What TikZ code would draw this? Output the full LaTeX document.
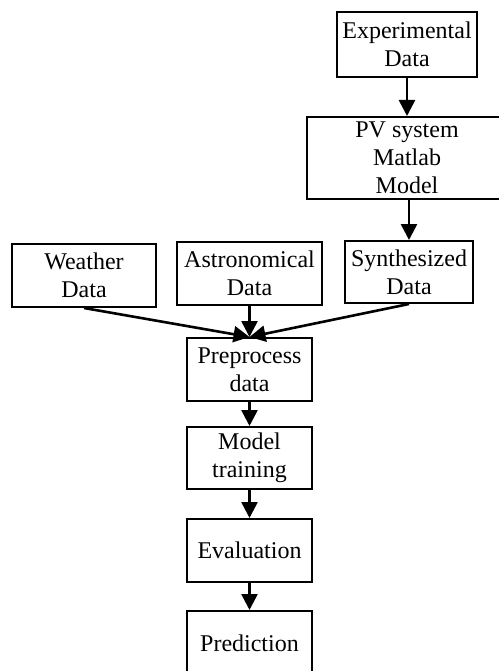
\documentclass[tikz,border=0pt]{standalone}
\usepackage{fontspec}
\setmainfont{Liberation Serif}
\usetikzlibrary{arrows.meta}
\begin{document}
\begin{tikzpicture}[x=1pt,y=-1pt,
  box/.style={draw,line width=2pt,align=center,inner sep=0pt,font=\fontsize{24}{28}\selectfont},
  arr/.style={line width=2.6pt,-{Triangle[length=16pt,width=16pt]}}]
\useasboundingbox (0,0) rectangle (498,671);
\node[box,minimum width=140pt,minimum height=65pt] (exp) at (407,44.5) {Experimental\\Data};
\node[box,minimum width=200pt,minimum height=82pt] (pv) at (407,158) {PV system\\Matlab\\Model};
\node[box,minimum width=128pt,minimum height=62pt] (syn) at (409,272) {Synthesized\\Data};
\node[box,minimum width=144pt,minimum height=63pt] (wea) at (84,275.5) {Weather\\Data};
\node[box,minimum width=145pt,minimum height=63pt] (ast) at (249.5,273.5) {Astronomical\\Data};
\node[box,minimum width=125pt,minimum height=63pt] (pre) at (249.5,369.5) {Preprocess\\data};
\node[box,minimum width=125pt,minimum height=62pt] (mod) at (249.5,458) {Model\\training};
\node[box,minimum width=125pt,minimum height=63pt] (eva) at (249.5,550.5) {Evaluation};
\node[box,minimum width=125pt,minimum height=65pt] (pred) at (249.5,643.5) {Prediction};
\draw[arr] (exp.south) -- (exp.south |- pv.north);
\draw[arr] (pv.south -| syn.north) -- (syn.north);
\draw[arr] (wea.south) -- (pre.north);
\draw[arr] (ast.south) -- (pre.north);
\draw[arr] (syn.south) -- (pre.north);
\draw[arr] (pre.south) -- (mod.north);
\draw[arr] (mod.south) -- (eva.north);
\draw[arr] (eva.south) -- (pred.north);
\end{tikzpicture}
\end{document}
